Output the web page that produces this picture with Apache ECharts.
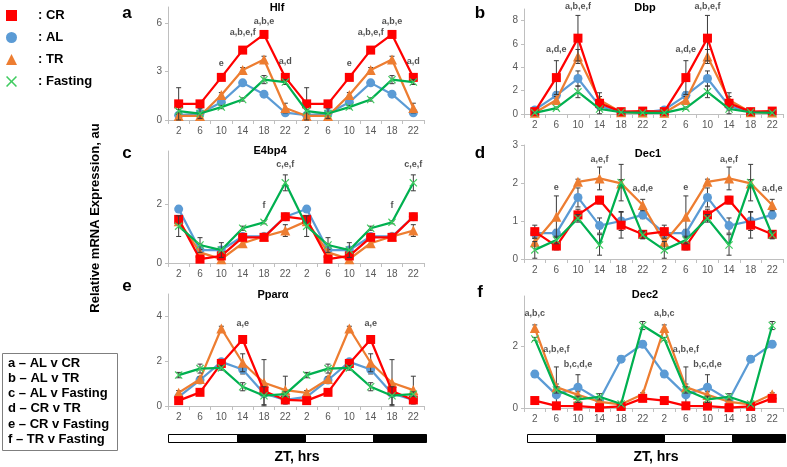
<!DOCTYPE html>
<html><head><meta charset="utf-8">
<script src="https://cdn.jsdelivr.net/npm/echarts@6/dist/echarts.min.js"></script>
<style>html,body{margin:0;padding:0;background:#fff}#c{width:787px;height:467px}</style>
</head><body><div id="c"></div>
<script>
// ---------- data ----------
const ztLabels = ['2','6','10','14','18','22','2','6','10','14','18','22'];
const groupNames = ['CR','AL','TR','Fasting'];

// Hlf (a)
const hlfCR = [1.0, 1.0, 2.64, 4.33, 5.3, 2.64];
const hlfAL = [0.3, 0.4, 1.1, 2.3, 1.6, 0.45];
const hlfTR = [0.25, 0.25, 1.55, 3.1, 3.75, 0.74];
const hlfF  = [0.55, 0.4, 0.8, 1.27, 2.5, 2.35];
const hlfCRerr = [1.0, 0.1, 0.15, 0.2, 0.15, 0.2];
const hlfALerr = [0.1, 0.1, 0.15, 0.1, 0.1, 0.1];
const hlfTRerr = [0.1, 0.1, 0.15, 0.15, 0.2, 0.3];
const hlfFerr  = [0.1, 0.3, 0.1, 0.1, 0.25, 0.15];
const hlfNotes = [[2,'e',3.5],[3,'a,b,e,f',5.4],[4,'a,b,e',6.1],[5,'a,d',3.6]];

// Dbp (b)
const dbpCR = [0.2, 3.12, 6.5, 0.92, 0.2, 0.25];
const dbpAL = [0.35, 1.6, 3.04, 0.7, 0.15, 0.15];
const dbpTR = [0.1, 1.2, 4.93, 1.2, 0.15, 0.12];
const dbpF  = [0.1, 0.5, 1.9, 0.43, 0.15, 0.1];
const dbpCRerr = [0.1, 1.45, 1.95, 0.9, 0.1, 0.1];
const dbpALerr = [0.1, 0.3, 0.65, 0.2, 0.05, 0.05];
const dbpTRerr = [0.05, 0.3, 0.6, 0.3, 0.05, 0.05];
const dbpFerr  = [0.05, 0.1, 0.5, 0.1, 0.05, 0.05];
const dbpNotes = [[1,'a,d,e',5.5],[2,'a,b,e,f',9.2]];

// E4bp4 (c)
const e4CR = [1.48, 0.13, 0.24, 0.87, 0.87, 1.57];
const e4AL = [1.83, 0.44, 0.44, 0.9, 0.9, 1.57];
const e4TR = [1.42, 0.36, 0.13, 0.67, 0.9, 1.1];
const e4F  = [1.25, 0.61, 0.44, 1.18, 1.38, 2.72];
const e4CRerr = [0.1, 0.05, 0.1, 0.1, 0.05, 0.1];
const e4ALerr = [0.1, 0.2, 0.1, 0.1, 0.05, 0.1];
const e4TRerr = [0.1, 0.1, 0.1, 0.1, 0.05, 0.2];
const e4Ferr  = [0.35, 0.25, 0.25, 0.07, 0.05, 0.27];
const e4Notes = [[4,'f',1.95],[5,'c,e,f',3.35]];

// Dec1 (d)
const dec1CR = [0.72, 0.34, 1.16, 1.55, 0.89, 0.65];
const dec1AL = [0.68, 0.68, 1.62, 0.88, 1.0, 1.16];
const dec1TR = [0.44, 1.11, 2.03, 2.12, 1.99, 1.42];
const dec1F  = [0.24, 0.5, 1.07, 0.37, 2.01, 0.63];
const dec1CRerr = [0.17, 0.1, 0.15, 0.1, 0.34, 0.1];
const dec1ALerr = [0.1, 0.1, 0.25, 0.2, 0.25, 0.1];
const dec1TRerr = [0.1, 0.55, 0.07, 0.3, 0.1, 0.15];
const dec1Ferr  = [0.22, 0.1, 0.1, 0.27, 0.48, 0.1];
const dec1Notes = [[1,'e',1.88],[3,'a,e,f',2.63],[5,'a,d,e',1.86]];

// Ppar-alpha (e)
const pparCR = [0.24, 0.61, 1.9, 2.97, 0.67, 0.27];
const pparAL = [0.41, 1.16, 1.97, 1.63, 0.56, 0.27];
const pparTR = [0.59, 1.2, 3.46, 1.93, 1.04, 0.71];
const pparF  = [1.38, 1.67, 1.7, 0.86, 0.46, 0.53];
const pparCRerr = [0.05, 0.05, 0.15, 0.1, 0.1, 0.05];
const pparALerr = [0.1, 0.1, 0.1, 0.2, 0.1, 0.1];
const pparTRerr = [0.1, 0.1, 0.1, 0.4, 1.03, 0.62];
const pparFerr  = [0.12, 0.2, 0.1, 0.18, 0.4, 0.1];
const pparNotes = [[3,'a,e',3.69]];

// Dec2 (f)
const dec2CR = [0.24, 0.07, 0.06, 0.01, 0.05, 0.31];
const dec2AL = [1.09, 0.42, 0.67, 0.26, 1.57, 2.05];
const dec2TR = [2.57, 0.67, 0.42, 0.2, 0.12, 0.44];
const dec2F  = [2.22, 0.58, 0.28, 0.36, 0.13, 2.65];
const dec2CRerr = [0.05, 0.05, 0.05, 0.03, 0.03, 0.05];
const dec2ALerr = [0.1, 0.9, 0.4, 0.05, 0.1, 0.1];
const dec2TRerr = [0.1, 0.1, 0.1, 0.05, 0.05, 0.05];
const dec2Ferr  = [0.05, 0.1, 0.1, 0.1, 0.05, 0.13];
const dec2Notes = [[0,'a,b,c',3.05],[1,'a,b,e,f',1.89],[2,'b,c,d,e',1.39]];

const comparisonNotes = ['a – AL v CR','b – AL v TR','c – AL v Fasting','d – CR v TR','e – CR v Fasting','f – TR v Fasting'];

// ---------- layout / style ----------
const FONT = '"Liberation Sans", Arial, sans-serif';
const XPATH = 'path://M1,0L5,4L9,0L10,1L6,5L10,9L9,10L5,6L1,10L0,9L4,5L0,1Z';
const styles = {
  CR: {symbol:'rect', size:9, color:'#FF0000', line:'#FF0000'},
  AL: {symbol:'circle', size:9, color:'#5B9BD5', line:'#5B9BD5'},
  TR: {symbol:'triangle', size:10, color:'#ED7D31', line:'#ED7D31'},
  Fasting: {symbol:XPATH, size:8, color:'#3FCB5F', line:'#00B050'}
};
const drawOrder = ['AL','TR','CR','Fasting'];

const panels = [
  {letter:'a', title:'Hlf', vals:{CR:hlfCR,AL:hlfAL,TR:hlfTR,Fasting:hlfF}, errs:{CR:hlfCRerr,AL:hlfALerr,TR:hlfTRerr,Fasting:hlfFerr}, notes:hlfNotes,
   max:7, interval:3, showMax:false, grid:{left:168, top:7, width:256, height:113}, titleX:277, titleY:8, letterX:127, letterY:13},
  {letter:'b', title:'Dbp', vals:{CR:dbpCR,AL:dbpAL,TR:dbpTR,Fasting:dbpF}, errs:{CR:dbpCRerr,AL:dbpALerr,TR:dbpTRerr,Fasting:dbpFerr}, notes:dbpNotes,
   max:9, interval:2, showMax:false, grid:{left:524, top:9, width:259, height:105}, titleX:645, titleY:8, letterX:480, letterY:13},
  {letter:'c', title:'E4bp4', vals:{CR:e4CR,AL:e4AL,TR:e4TR,Fasting:e4F}, errs:{CR:e4CRerr,AL:e4ALerr,TR:e4TRerr,Fasting:e4Ferr}, notes:e4Notes,
   max:3.8, interval:2, showMax:false, grid:{left:168, top:151, width:256, height:112}, titleX:270, titleY:151, letterX:127, letterY:153},
  {letter:'d', title:'Dec1', vals:{CR:dec1CR,AL:dec1AL,TR:dec1TR,Fasting:dec1F}, errs:{CR:dec1CRerr,AL:dec1ALerr,TR:dec1TRerr,Fasting:dec1Ferr}, notes:dec1Notes,
   max:3, interval:1, showMax:true, grid:{left:524, top:145, width:259, height:114}, titleX:648, titleY:154, letterX:480, letterY:153},
  {letter:'e', title:'Pparα', vals:{CR:pparCR,AL:pparAL,TR:pparTR,Fasting:pparF}, errs:{CR:pparCRerr,AL:pparALerr,TR:pparTRerr,Fasting:pparFerr}, notes:pparNotes,
   max:5, interval:2, showMax:false, grid:{left:168, top:294, width:256, height:112}, titleX:273, titleY:295, letterX:127, letterY:286},
  {letter:'f', title:'Dec2', vals:{CR:dec2CR,AL:dec2AL,TR:dec2TR,Fasting:dec2F}, errs:{CR:dec2CRerr,AL:dec2ALerr,TR:dec2TRerr,Fasting:dec2Ferr}, notes:dec2Notes,
   max:3.6, interval:2, showMax:false, grid:{left:524, top:296, width:259, height:112}, titleX:645, titleY:295, letterX:480, letterY:292}
];

const twice = a => a.concat(a);

function errRender(params, api) {
  const i = api.value(0), v = api.value(1), e = api.value(2);
  const top = api.coord([i, v + e]);
  const bot = api.coord([i, Math.max(0, v - e)]);
  const hw = 2.5;
  const st = {stroke:'#3A3A3A', lineWidth:1};
  return {type:'group', children:[
    {type:'line', shape:{x1:top[0], y1:top[1], x2:bot[0], y2:bot[1]}, style:st},
    {type:'line', shape:{x1:top[0]-hw, y1:top[1], x2:top[0]+hw, y2:top[1]}, style:st},
    {type:'line', shape:{x1:bot[0]-hw, y1:bot[1], x2:bot[0]+hw, y2:bot[1]}, style:st}
  ]};
}

const grids = [], xAxes = [], yAxes = [], series = [];
panels.forEach((p, pi) => {
  grids.push(Object.assign({containLabel:false, outerBoundsMode:'none'}, p.grid));
  xAxes.push({
    type:'category', gridIndex:pi, data:ztLabels, boundaryGap:true,
    axisLine:{show:true, lineStyle:{color:'#BFBFBF', width:1}},
    axisTick:{show:true, length:4, lineStyle:{color:'#BFBFBF'}},
    axisLabel:{fontSize:10, color:'#595959', margin:6, interval:0, fontFamily:FONT},
    splitLine:{show:false}
  });
  yAxes.push({
    type:'value', gridIndex:pi, min:0, max:p.max, interval:p.interval,
    axisLine:{show:true, lineStyle:{color:'#BFBFBF', width:1}},
    axisTick:{show:true, length:3, lineStyle:{color:'#BFBFBF'}},
    axisLabel:{fontSize:10, color:'#595959', margin:6, showMaxLabel:p.showMax, fontFamily:FONT},
    splitLine:{show:false}
  });
  drawOrder.forEach((g, gi) => {
    const s = styles[g];
    const vals = twice(p.vals[g]);
    const errs = twice(p.errs[g]);
    series.push({
      type:'custom', xAxisIndex:pi, yAxisIndex:pi, renderItem:errRender, silent:true,
      z:9 + gi*2, data: vals.map((v, i) => [i, v, errs[i]]),
      encode:{x:0, y:1}
    });
    series.push({
      type:'line', name:g, xAxisIndex:pi, yAxisIndex:pi, data:vals,
      symbol:s.symbol, symbolSize:s.size, showAllSymbol:true,
      lineStyle:{color:s.line, width:2.25},
      itemStyle:{color:s.color, borderWidth:0},
      z:10 + gi*2, silent:true
    });
  });
  const noteData = [];
  p.notes.forEach(n => {
    noteData.push({name:n[1], value:[n[0], n[2]]});
    noteData.push({name:n[1], value:[n[0] + 6, n[2]]});
  });
  series.push({
    type:'scatter', xAxisIndex:pi, yAxisIndex:pi, data:noteData, clip:false,
    symbol:'circle', symbolSize:1, itemStyle:{color:'rgba(0,0,0,0)'}, silent:true, z:40,
    label:{show:true, position:'inside', formatter:'{b}', fontSize:9, fontWeight:'bold', color:'#262626', fontFamily:FONT}
  });
});

// ---------- graphics: titles, letters, axis name, LD bars, comparison box ----------
const graphic = [];
panels.forEach(p => {
  graphic.push({type:'text', x:p.titleX, y:p.titleY, style:{text:p.title, font:'bold 11px ' + FONT, fill:'#000', textAlign:'center', textVerticalAlign:'middle'}});
  graphic.push({type:'text', x:p.letterX, y:p.letterY, style:{text:p.letter, font:'bold 17px ' + FONT, fill:'#000', textAlign:'center', textVerticalAlign:'middle'}});
});
graphic.push({type:'text', x:95, y:218, rotation:Math.PI/2, style:{text:'Relative mRNA Expression, au', font:'bold 13px ' + FONT, fill:'#000', textAlign:'center', textVerticalAlign:'middle'}});

function ldBar(x0, y0) {
  const segs = [[0,69,'#fff'],[69,68,'#000'],[137,68,'#fff'],[205,53,'#000']];
  segs.forEach(s => graphic.push({type:'rect', shape:{x:x0 + s[0], y:y0, width:s[1], height:8}, style:{fill:s[2], stroke:'#000', lineWidth:1}}));
}
ldBar(168.5, 434.5);
ldBar(527.5, 434.5);
graphic.push({type:'text', x:297, y:457, style:{text:'ZT, hrs', font:'bold 14px ' + FONT, fill:'#000', textAlign:'center', textVerticalAlign:'middle'}});
graphic.push({type:'text', x:656, y:457, style:{text:'ZT, hrs', font:'bold 14px ' + FONT, fill:'#000', textAlign:'center', textVerticalAlign:'middle'}});

graphic.push({type:'rect', shape:{x:2.5, y:353.5, width:115, height:97}, style:{fill:'#fff', stroke:'#7F7F7F', lineWidth:1}});
comparisonNotes.forEach((t, i) => {
  graphic.push({type:'text', x:8, y:363 + i*15.3, style:{text:t, font:'bold 13px ' + FONT, fill:'#000', textAlign:'left', textVerticalAlign:'middle'}});
});

const chart = echarts.init(document.getElementById('c'), null, {renderer:'canvas'});
chart.setOption({
  animation:false,
  backgroundColor:'#fff',
  grid:grids, xAxis:xAxes, yAxis:yAxes, series:series, graphic:graphic,
  legend:{
    orient:'vertical', left:6, top:9, padding:0, itemWidth:11, itemHeight:11, itemGap:9, selectedMode:false,
    data:[{name:'CR', icon:'rect'},{name:'AL', icon:'circle'},{name:'TR', icon:'triangle'},{name:'Fasting', icon:XPATH}],
    formatter: n => ': ' + n,
    itemStyle:{borderWidth:0},
    textStyle:{fontSize:13, fontWeight:'bold', color:'#000', fontFamily:FONT, padding:[0,0,0,16]}
  }
});
</script></body></html>
